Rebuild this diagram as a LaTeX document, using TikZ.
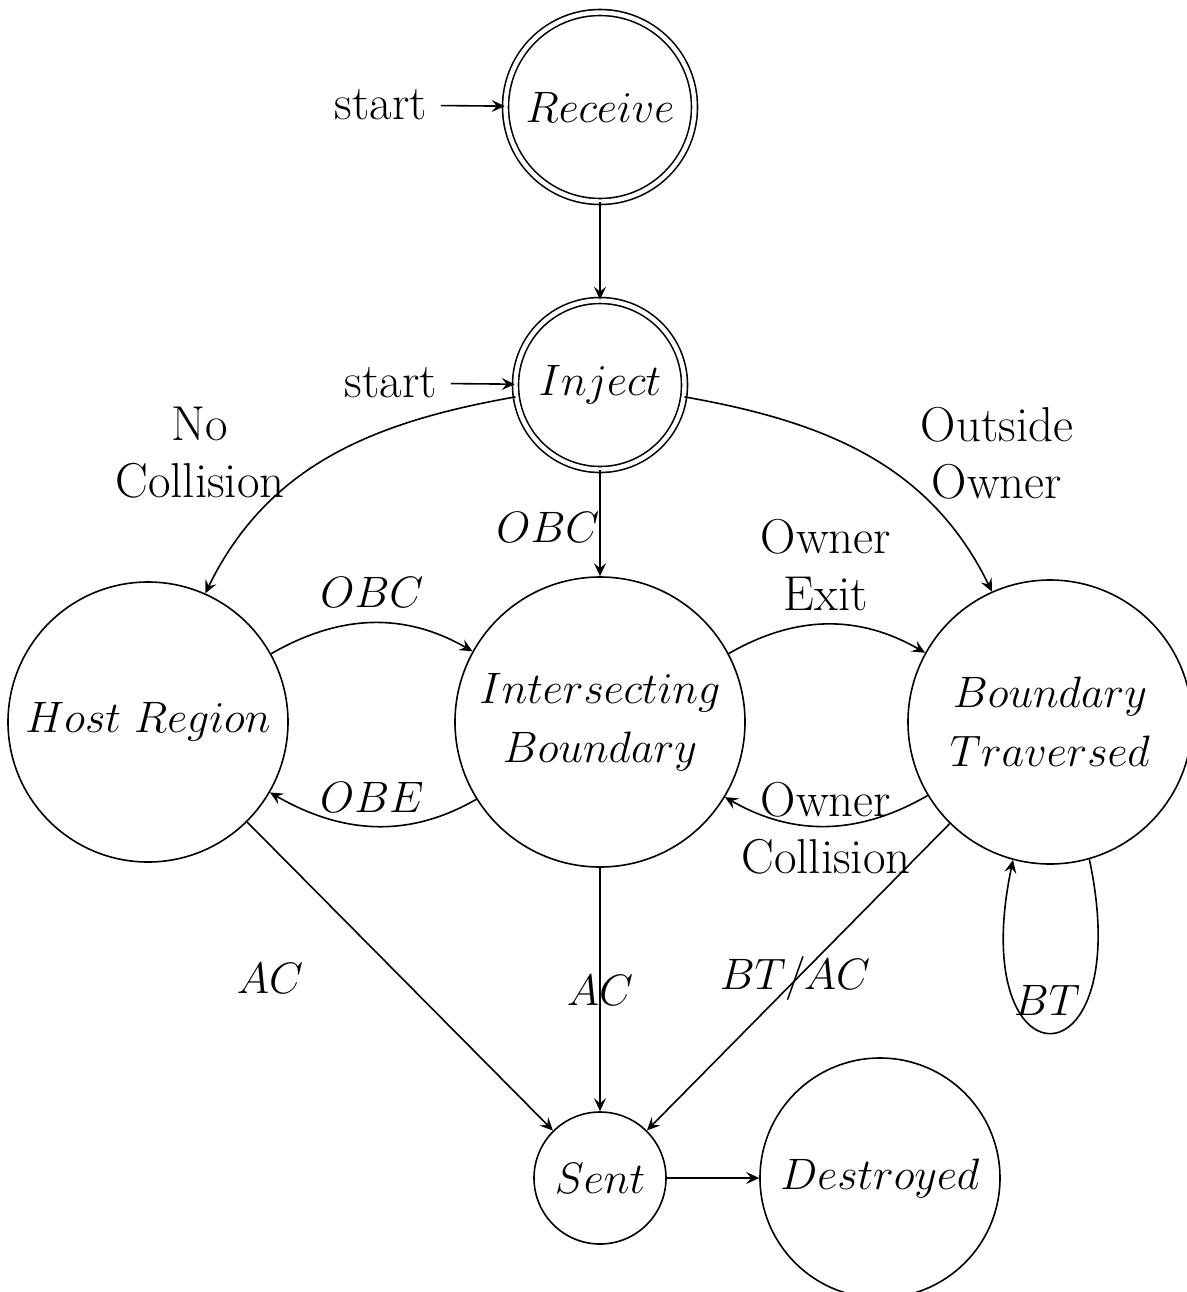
\RequirePackage{fix-cm}
\documentclass[tikz,border=0pt]{standalone}
\usetikzlibrary{arrows.meta}
\begin{document}
\begin{tikzpicture}[x=0.5pt,y=-0.5pt,
  font=\fontsize{22}{28.5}\selectfont,
  line width=0.8pt,
  >={Stealth[length=6.5pt,width=6pt,inset=2.5pt]},
  st/.style={draw,circle,inner sep=0pt,align=center},
  acc/.style={st,double,double distance=2.2pt},
  lbl/.style={inner sep=2pt,align=center},
  txt/.style={lbl,font=\fontsize{24.5}{28.5}\selectfont},
  init/.style={txt,inner sep=6.5pt}]
\useasboundingbox (0,0) rectangle (1187,1292);

% states
\node[acc,minimum size=94.5pt] (rec) at (600,107) {$Receive$};
\node[acc,minimum size=84.5pt] (inj) at (600,385) {$Inject$};
\node[st,minimum size=140pt] (host) at (148,722) {$Host~Region$};
\node[st,minimum size=145pt] (ib) at (600,722) {$Intersecting$\\[1pt]$Boundary$};
\node[st,minimum size=142pt] (bt) at (1050,722) {$Boundary$\\[1pt]$Traversed$};
\node[st,minimum size=66pt] (sent) at (600,1178) {$Sent$};
\node[st,minimum size=120pt] (dest) at (880,1178) {$Destroyed$};

% initial markers
\node[init] (s1) at (381,105) {start};
\node[init] (s2) at (391,383) {start};
\draw[->] (s1) -- (rec);
\draw[->] (s2) -- (inj);

% transitions
\draw[->] (rec) -- (inj);
\draw[->] (inj.188) to[out=190,in=64] (host.66);
\draw[->] (inj.-8) to[out=-10,in=116] (bt.114);
\draw[->] (inj) -- (ib);
\draw[->] (host.29) to[out=30,in=150] (ib.151);
\draw[->] (ib.212) to[out=210,in=-30] (host.-30);
\draw[->] (ib.28) to[out=30,in=150] (bt.151);
\draw[->] (bt.211) to[out=210,in=-30] (ib.-31);
\draw[->] (host) -- (sent);
\draw[->] (ib) -- (sent);
\draw[->] (bt) -- (sent);
\draw[->] (bt.-74) .. controls +(-78:118pt) and +(-102:118pt) .. (bt.-105);
\draw[->] (sent) -- (dest);

% transition labels
\node[txt] (lnc) at (200,453) {No\\Collision};
\node[txt] (loo) at (997,453) {Outside\\Owner};
\node[lbl] (lobc1) at (548,527) {$OBC$};
\node[lbl] (lobc2) at (372,592) {$OBC$};
\node[lbl] (lobe) at (372,797) {$OBE$};
\node[txt] (loe) at (826,565) {Owner\\Exit};
\node[txt] (loc) at (826,828) {Owner\\Collision};
\node[lbl] (lac1) at (270,978) {$AC$};
\node[lbl] (lac2) at (600,990) {$AC$};
\node[lbl] (lbtac) at (795,978) {$BT/AC$};
\node[lbl] (lbt) at (1047,1000) {$BT$};
\end{tikzpicture}
\end{document}
